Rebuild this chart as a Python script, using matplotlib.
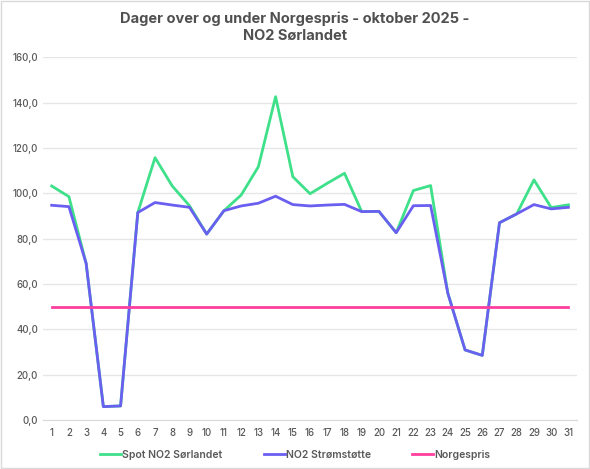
import matplotlib
matplotlib.use('Agg')
import matplotlib.pyplot as plt
import numpy as np

days = list(range(1, 32))
spot = [103.2, 98.5, 69.1, 5.9, 6.2, 91.5, 115.7, 103.2, 94.5, 82.0,
        92.3, 99.2, 111.7, 142.6, 107.3, 99.8, 104.4, 108.8, 91.9, 92.0,
        82.6, 101.2, 103.4, 55.9, 30.9, 28.5, 87.0, 90.9, 105.9, 93.7, 94.9]
stotte = [94.7, 94.1, 69.1, 5.9, 6.2, 91.5, 95.9, 94.8, 93.8, 82.0,
          92.3, 94.4, 95.6, 98.7, 95.0, 94.4, 94.8, 95.1, 91.9, 92.0,
          82.6, 94.5, 94.6, 55.9, 30.9, 28.5, 87.0, 90.9, 95.0, 93.1, 93.8]
norgespris = [50.0] * 31

plt.rcParams['font.family'] = ['Inter', 'DejaVu Sans']

fig = plt.figure(figsize=(5.9, 4.69), dpi=100)
ax = fig.add_axes([0.073, 0.1045, 0.905, 0.7735])

ax.plot(days, spot, color='#3ee08a', linewidth=2, label='Spot NO2 Sørlandet')
ax.plot(days, stotte, color='#6a5ff0', linewidth=2, label='NO2 Strømstøtte')
ax.plot(days, norgespris, color='#ff3fa0', linewidth=2, label='Norgespris')

yt = np.arange(0, 161, 20)
ax.set_xlim(0.5, 31.5)
ax.set_ylim(0, 160)
ax.set_yticks(yt)
ax.set_yticklabels([('%.1f' % v).replace('.', ',') for v in yt])
ax.set_xticks(days)
ax.tick_params(axis='both', length=0, labelsize=7, colors='#595959')
ax.tick_params(axis='x', pad=6)
for lab in ax.get_xticklabels() + ax.get_yticklabels():
    lab.set_fontweight('medium')
ax.grid(axis='y', color='#e6e6e6', linewidth=1)
ax.set_axisbelow(True)
for s in ['top', 'right', 'left']:
    ax.spines[s].set_visible(False)
ax.spines['bottom'].set_color('#d9d9d9')

fig.suptitle('Dager over og under Norgespris - oktober 2025 -\nNO2 Sørlandet',
             fontsize=10.5, fontweight='bold', color='#505050', y=0.975)

leg = fig.legend(loc='lower center', ncol=3, frameon=False,
                 prop={'size': 7.5, 'weight': 'semibold'},
                 bbox_to_anchor=(0.5, 0.0), handlelength=2, columnspacing=4,
                 handletextpad=0.1)
for t in leg.get_texts():
    t.set_color('#595959')

# ramme rundt figuren
fig.patches.append(plt.Rectangle((0.002, 0.002), 0.996, 0.996, transform=fig.transFigure,
                                 fill=False, edgecolor='#d9d9d9', linewidth=1))

fig.savefig('out.png', dpi=100)
